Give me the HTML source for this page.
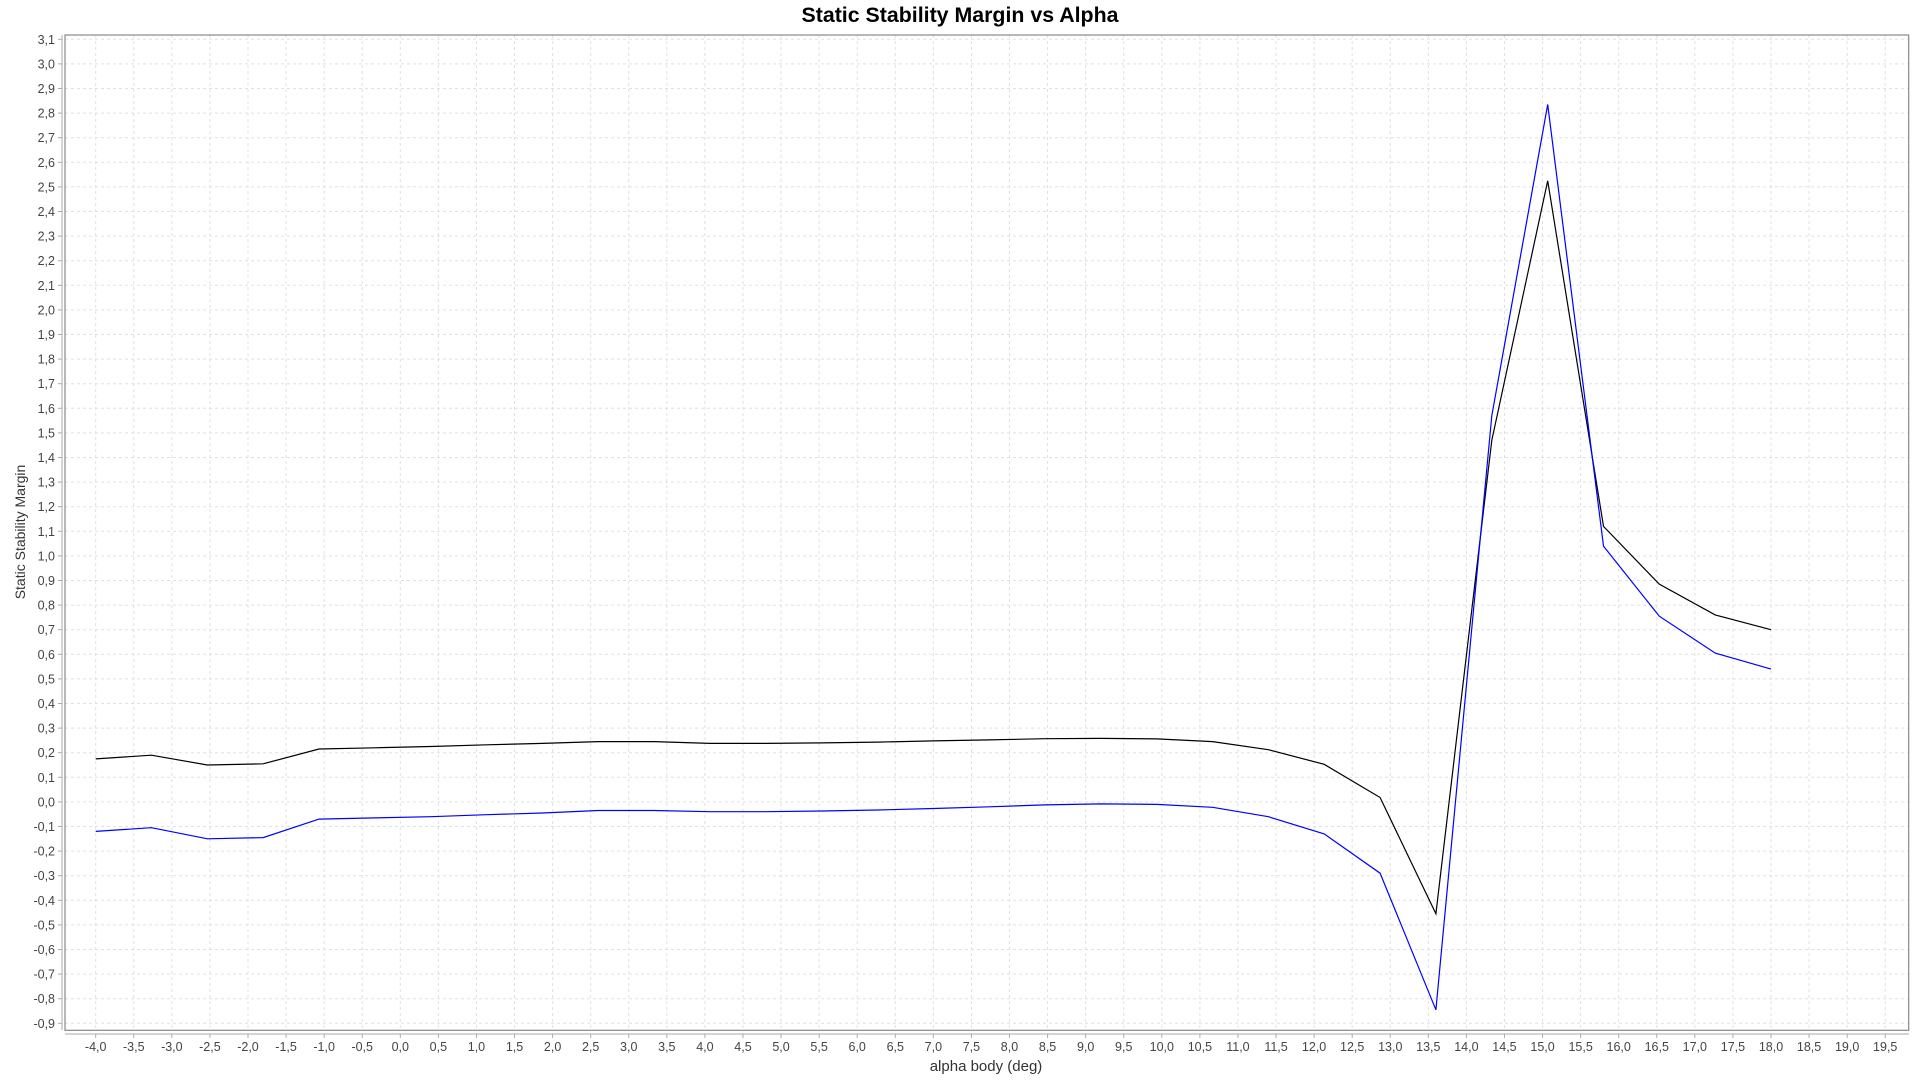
<!DOCTYPE html>
<html><head><meta charset="utf-8"><style>
html,body{margin:0;padding:0;background:#fff;}
svg{display:block;font-family:"Liberation Sans",sans-serif;}
</style></head><body>
<svg id="chart" width="1920" height="1080" viewBox="0 0 1920 1080" xmlns="http://www.w3.org/2000/svg">
<text x="960" y="22" text-anchor="middle" font-size="21" font-weight="bold" fill="#000" textLength="317" lengthAdjust="spacingAndGlyphs">Static Stability Margin vs Alpha</text>
<rect x="65" y="35" width="1843.7" height="995.3" fill="#fff"/>
<g id="grid"></g>
<g id="axes"></g>
<g id="series"></g>
<rect x="65" y="35" width="1843.7" height="995.3" fill="none" stroke="#888" stroke-width="1.2"/>
<text x="986" y="1071" text-anchor="middle" font-size="15" fill="#333">alpha body (deg)</text>
<text transform="translate(25,532) rotate(-90)" text-anchor="middle" font-size="14" fill="#333">Static Stability Margin</text>
</svg>
<script>
const alphaValues=[-4,-3.267,-2.533,-1.8,-1.067,-0.333,0.4,1.133,1.867,2.6,3.333,4.067,4.8,5.533,6.267,7,7.733,8.467,9.2,9.933,10.667,11.4,12.133,12.867,13.6,14.333,15.067,15.8,16.533,17.267,18];
const blackSeries=[0.175,0.19,0.15,0.155,0.215,0.22,0.225,0.232,0.238,0.245,0.245,0.238,0.238,0.24,0.243,0.248,0.252,0.257,0.258,0.256,0.245,0.212,0.153,0.018,-0.455,1.47,2.525,1.12,0.885,0.76,0.70];
const blueSeries=[-0.12,-0.105,-0.15,-0.145,-0.07,-0.065,-0.06,-0.052,-0.045,-0.035,-0.035,-0.04,-0.04,-0.037,-0.033,-0.027,-0.02,-0.012,-0.008,-0.01,-0.022,-0.06,-0.13,-0.29,-0.845,1.57,2.835,1.04,0.755,0.605,0.54];
const xTickMin=-4, xTickMax=19.5, xTickStep=0.5;
const yTickMin=-0.9, yTickMax=3.1, yTickStep=0.1;

const NS="http://www.w3.org/2000/svg";
function xs(v){return 95.7+(v+4)*76.15;}
function ys(v){return 39.3+(3.1-v)*246;}
function mk(tag,attrs,parent){const e=document.createElementNS(NS,tag);for(const k in attrs)e.setAttribute(k,attrs[k]);parent.appendChild(e);return e;}
const grid=document.getElementById('grid'),axes=document.getElementById('axes'),series=document.getElementById('series');
function fmt(v){return v.toFixed(1).replace('.',',').replace(/^-0,0$/,'0,0');}
let al=mk('line',{x1:62,y1:35,x2:62,y2:1030,stroke:'#aaa','stroke-width':1},axes);

al=mk('line',{x1:65,y1:1034,x2:1909,y2:1034,stroke:'#aaa','stroke-width':1},axes);

const nx=Math.round((xTickMax-xTickMin)/xTickStep);
for(let i=0;i<=nx;i++){
  const v=xTickMin+i*xTickStep,x=xs(v);
  const g=mk('line',{x1:x,y1:35,x2:x,y2:1030,stroke:'#e0e0e0','stroke-width':1,'stroke-dasharray':'3,3'},grid);
  
  
  const t=mk('line',{x1:x,y1:1034,x2:x,y2:1038,stroke:'#aaa'},axes);
  
  
  const l=mk('text',{x:x,y:1051,'text-anchor':'middle','font-size':12.5,fill:'#444'},axes);
  l.textContent=fmt(v);
  
  
}
const ny=Math.round((yTickMax-yTickMin)/yTickStep);
for(let i=0;i<=ny;i++){
  const v=yTickMin+i*yTickStep,y=ys(v);
  const g=mk('line',{x1:65,y1:y,x2:1909,y2:y,stroke:'#e0e0e0','stroke-width':1,'stroke-dasharray':'3,3'},grid);
  
  
  const t=mk('line',{x1:58,y1:y,x2:62,y2:y,stroke:'#aaa'},axes);
  
  
  const l=mk('text',{x:55,y:y+4.5,'text-anchor':'end','font-size':12.5,fill:'#444'},axes);
  l.textContent=fmt(v);
  
  
}
function line(vals,color,name){
  const pts=vals.map((v,i)=>xs(alphaValues[i]).toFixed(1)+','+ys(v).toFixed(1)).join(' ');
  const p=mk('polyline',{points:pts,fill:'none',stroke:color,'stroke-width':1.2},series);
  
  
}
line(blackSeries,'#000','black-series-line');
line(blueSeries,'#0000ff','blue-series-line');
</script>
</body></html>
